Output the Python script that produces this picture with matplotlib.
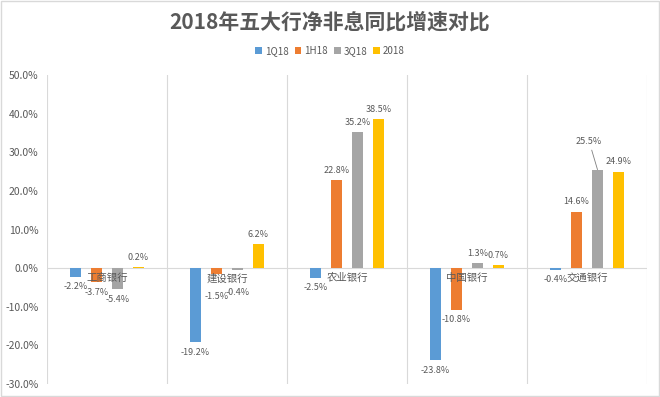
import matplotlib
matplotlib.use("Agg")
import matplotlib.pyplot as plt
import numpy as np

plt.rcParams['font.family'] = ['Noto Sans CJK SC', 'DejaVu Sans']

title = "2018年五大行净非息同比增速对比"
banks = ["工商银行", "建设银行", "农业银行", "中国银行", "交通银行"]
series_names = ["1Q18", "1H18", "3Q18", "2018"]
q1_18 = [-2.2, -19.2, -2.5, -23.8, -0.4]
h1_18 = [-3.7, -1.5, 22.8, -10.8, 14.6]
q3_18 = [-5.4, -0.4, 35.2, 1.3, 25.5]
y2018 = [0.2, 6.2, 38.5, 0.7, 24.9]
yticks = [-30, -20, -10, 0, 10, 20, 30, 40, 50]

colors = ["#5B9BD5", "#ED7D31", "#A5A5A5", "#FFC000"]
txt = "#595959"

fig = plt.figure(figsize=(6.6, 3.97), dpi=100)
fig.patch.set_facecolor("white")
ax = fig.add_axes([0.0712, 0.0327, 0.9091, 0.7784])

x = np.arange(len(banks))
width = 0.092
step = 0.175
data = [q1_18, h1_18, q3_18, y2018]
# extra downward offsets (points) for some negative labels to avoid category labels
extra = {(1, 1): 9, (2, 1): 9}
for si, (name, vals) in enumerate(zip(series_names, data)):
    pos = x + (si - 1.5) * step
    bars = ax.bar(pos, vals, width, color=colors[si], label=name, zorder=3)
    for bi, (px, v) in enumerate(zip(pos, vals)):
        lab = f"{v:.1f}%"
        if v >= 0:
            if (si, bi) == (2, 4):
                ax.annotate(lab, (px, v), xytext=(-6, 17), textcoords="offset points",
                            ha="center", va="bottom", fontsize=6.5, color=txt,
                            arrowprops=dict(arrowstyle="-", color="#7F7F7F", lw=0.6,
                                            shrinkA=1, shrinkB=0))
            else:
                ax.annotate(lab, (px, v), xytext=(0, 4), textcoords="offset points",
                            ha="center", va="bottom", fontsize=6.5, color=txt)
        else:
            dy = -4 - extra.get((si, bi), 0)
            ax.annotate(lab, (px, v), xytext=(0, dy), textcoords="offset points",
                        ha="center", va="top", fontsize=6.5, color=txt)

for i, b in enumerate(banks):
    ax.text(i, -1.3, b, ha="center", va="top", fontsize=7.5, color=txt, zorder=4)

ax.set_xlim(-0.5, len(banks) - 0.5)
ax.set_ylim(-30, 50)
ax.set_yticks(yticks)
ax.set_yticklabels([f"{t:.1f}%" for t in yticks], fontsize=7.5, color=txt)
ax.set_xticks([])
for b in np.arange(-0.5, len(banks), 1.0):
    ax.axvline(b, color="#D9D9D9", lw=0.8, zorder=1)
ax.axhline(0, color="#D9D9D9", lw=0.8, zorder=2)
for s in ax.spines.values():
    s.set_visible(False)
ax.tick_params(axis="y", length=0, pad=6)

fig.text(0.5, 0.945, title, ha="center", va="center", fontsize=15, fontweight="bold", color=txt)
fig.legend(loc="center", bbox_to_anchor=(0.5, 0.872), ncol=4, frameon=False, fontsize=7,
           handlelength=0.7, handleheight=0.7, handletextpad=0.3, columnspacing=0.6,
           labelcolor=txt)

border = plt.Rectangle((0.002, 0.003), 0.996, 0.994, transform=fig.transFigure,
                       fill=False, edgecolor="#D9D9D9", lw=1)
fig.patches.append(border)

fig.savefig("out.png", dpi=100)
